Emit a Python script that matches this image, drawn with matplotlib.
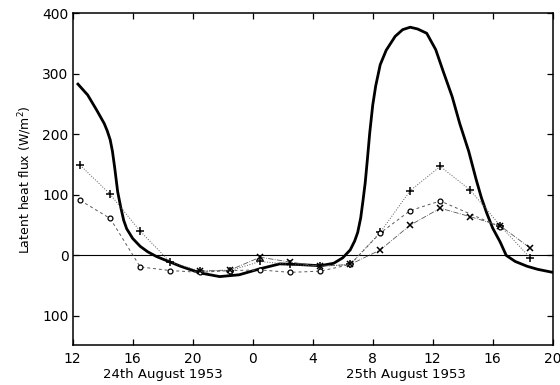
import numpy as np
import matplotlib.pyplot as plt
from matplotlib.ticker import FixedLocator, FuncFormatter

# hours counted from 00:00 on 24th August 1953
curve_hours = [12.35, 13.0, 13.6, 14.1, 14.3, 14.5, 14.65, 14.8, 15.0, 15.2, 15.4, 15.6,
               16.0, 16.5, 17.0, 17.6, 18.4, 19.2, 20.5, 21.8, 23.1, 24.5, 25.8, 27.0,
               28.5, 29.4, 30.0, 30.5, 30.8, 31.0, 31.2, 31.35, 31.5, 31.65, 31.8, 32.0,
               32.2, 32.5, 32.9, 33.5, 34.0, 34.5, 35.0, 35.6, 36.2, 36.7, 37.3, 37.8,
               38.4, 38.9, 39.25, 39.6, 40.0, 40.5, 40.9, 41.5, 42.3, 43.0, 44.0]
curve_flux = [283, 265, 240, 218, 206, 191, 172, 145, 105, 80, 58, 44,
              28, 15, 6, -2, -10, -18, -29, -35, -32, -22, -14, -15,
              -17, -13, -4, 9, 24, 38, 62, 90, 120, 160, 202, 248,
              280, 315, 339, 362, 373, 377, 374, 367, 340, 304, 262, 218,
              172, 125, 95, 70, 45, 22, 0, -10, -18, -23, -28]

plus_hours = [12.5, 14.5, 16.5, 18.5, 20.5, 22.5, 24.5, 26.5, 28.5, 30.5, 32.5, 34.5,
              36.5, 38.5, 40.5, 42.5]
plus_flux = [149, 101, 40, -11, -26, -25, -10, -15, -18, -15, 38, 107, 147, 108, 49, -4]

circ_hours = [12.5, 14.5, 16.5, 18.5, 20.5, 22.5, 24.5, 26.5, 28.5, 30.5, 32.5, 34.5,
              36.5, 40.5]
circ_flux = [91, 61, -19, -25, -28, -25, -24, -28, -26, -15, 37, 74, 90, 47]

cross_hours = [20.5, 22.5, 24.5, 26.5, 28.5, 30.5, 32.5, 34.5, 36.5, 38.5, 40.5, 42.5]
cross_flux = [-26, -24, -3, -11, -18, -15, 9, 50, 78, 64, 49, 12]

tick_hours = [12, 16, 20, 24, 28, 32, 36, 40, 44]
tick_names = ['12', '16', '20', '0', '4', '8', '12', '16', '20']
y_ticks = [400, 300, 200, 100, 0, -100]

fig = plt.figure(figsize=(5.6, 3.85), dpi=100)
ax = fig.add_axes([0.1298, 0.1039, 0.8572, 0.8616])

ax.axhline(0, color='black', linewidth=0.8, zorder=1)
ax.plot(curve_hours, curve_flux, color='black', linewidth=2.0, zorder=3)

ax.plot(plus_hours, plus_flux, color='0.35', linestyle=':', linewidth=0.7,
        marker='+', markersize=6, markeredgewidth=1.1, markeredgecolor='black', zorder=4)
ax.plot(circ_hours, circ_flux, color='0.35', linestyle=(0, (3, 3)), linewidth=0.7,
        marker='o', markersize=3.5, markerfacecolor='white', markeredgewidth=0.9,
        markeredgecolor='black', zorder=4)
ax.plot(cross_hours, cross_flux, color='0.35', linestyle='-.', linewidth=0.6,
        marker='x', markersize=5, markeredgewidth=1.1, markeredgecolor='black', zorder=4)

ax.set_xlim(12, 44)
ax.set_ylim(-148, 400)
ax.xaxis.set_major_locator(FixedLocator(tick_hours))
ax.set_xticklabels(tick_names)
ax.yaxis.set_major_locator(FixedLocator(y_ticks))
ax.yaxis.set_major_formatter(FuncFormatter(lambda v, p: f'{abs(int(v))}'))
ax.tick_params(direction='in', length=4, width=0.9, top=True, right=True,
               labelsize=10, colors='black')
ax.tick_params(axis='x', pad=5)
ax.tick_params(axis='y', pad=3)
for side in ax.spines.values():
    side.set_linewidth(1.1)

ax.set_ylabel('Latent heat flux (W/m$^2$)', fontsize=9, labelpad=6)
ax.text(18.0, -0.09, '24th August 1953', transform=ax.get_xaxis_transform(),
        ha='center', va='center', fontsize=9.5)
ax.text(34.2, -0.09, '25th August 1953', transform=ax.get_xaxis_transform(),
        ha='center', va='center', fontsize=9.5)

fig.savefig('out.png', dpi=100)
